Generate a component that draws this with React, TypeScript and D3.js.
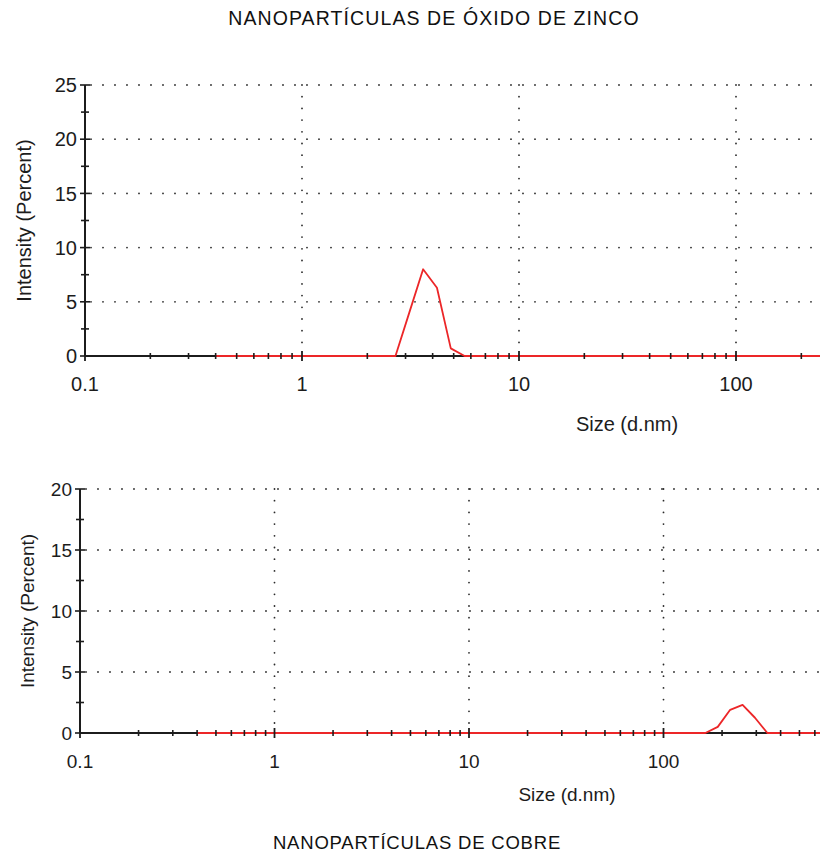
import React from 'react';
import * as d3 from 'd3';

// Zetasizer size bins (d.nm)
const sizeBins = [
  0.4, 0.4632, 0.5365, 0.6213, 0.7195, 0.8332, 0.9649, 1.117, 1.294, 1.499,
  1.736, 2.01, 2.328, 2.696, 3.122, 3.615, 4.187, 4.849, 5.615, 6.503,
  7.531, 8.721, 10.1, 11.7, 13.54, 15.69, 18.17, 21.04, 24.36, 28.21,
  32.67, 37.84, 43.82, 50.75, 58.77, 68.06, 78.82, 91.28, 105.7, 122.4,
  141.8, 164.2, 190.1, 220.2, 255, 295.3, 342, 396.1, 458.7, 531.2,
  615.1, 712.4, 825, 955.4, 1106, 1281, 1484, 1718, 1990, 2305,
  2669, 3091, 3580, 4145, 4801, 5560, 6439, 7456, 8635, 10000,
];

// intensity (%) per bin
const zincIntensity = [
  0, 0, 0, 0, 0, 0, 0, 0, 0, 0,
  0, 0, 0, 0, 4.0, 8.0, 6.3, 0.7, 0, 0,
  0, 0, 0, 0, 0, 0, 0, 0, 0, 0,
  0, 0, 0, 0, 0, 0, 0, 0, 0, 0,
  0, 0, 0, 0, 0, 0, 0, 0, 0, 0,
  0, 0, 0, 0, 0, 0, 0, 0, 0, 0,
  0, 0, 0, 0, 0, 0, 0, 0, 0, 0,
];

const copperIntensity = [
  0, 0, 0, 0, 0, 0, 0, 0, 0, 0,
  0, 0, 0, 0, 0, 0, 0, 0, 0, 0,
  0, 0, 0, 0, 0, 0, 0, 0, 0, 0,
  0, 0, 0, 0, 0, 0, 0, 0, 0, 0,
  0, 0, 0.5, 1.9, 2.3, 1.25, 0, 0, 0, 0,
  0, 0, 0, 0, 0, 0, 0, 0, 0, 0,
  0, 0, 0, 0, 0, 0, 0, 0, 0, 0,
];

const xMajorTicks = [0.1, 1, 10, 100, 1000, 10000];
const xTickLabels = ['0.1', '1', '10', '100', '1000', '10000'];
const zincYTicks = [0, 5, 10, 15, 20, 25];
const copperYTicks = [0, 5, 10, 15, 20];

const FONT = '"Liberation Sans", Arial, Helvetica, sans-serif';
const INK = '#1c1c1c';

type PanelProps = {
  values: number[];
  yTicks: number[];
  x0: number;
  decade: number;
  yTop: number;
  yBase: number;
  fontSize: number;
  xLabelX: number;
  xLabelY: number;
  yLabelX: number;
};

function Panel({ values, yTicks, x0, decade, yTop, yBase, fontSize, xLabelX, xLabelY, yLabelX }: PanelProps) {
  const x = d3.scaleLog().domain([0.1, 10000]).range([x0, x0 + decade * 5]);
  const yMax = yTicks[yTicks.length - 1];
  const y = d3.scaleLinear().domain([0, yMax]).range([yBase, yTop]);
  const right = 820;

  const pts = sizeBins.map((s, i) => [s, values[i]] as [number, number]);
  const line = d3.line<[number, number]>().x(d => x(d[0])).y(d => y(d[1]));

  // minor x ticks 2..9 per decade
  const minor: number[] = [];
  for (let k = 0; k < 5; k++) {
    const base = xMajorTicks[k];
    for (let m = 2; m <= 9; m++) minor.push(base * m);
  }
  const yMinor = d3.range(0, yMax + 0.01, 2.5).filter(v => v % 5 !== 0);
  const majorVisible = xMajorTicks.filter(v => x(v) <= right);

  return (
    <g>
      {/* grid */}
      {yTicks.filter(v => v > 0).map(v => (
        <line key={'gy' + v} x1={x0 + 6} x2={right} y1={y(v)} y2={y(v)}
          stroke="#2a2a2a" strokeWidth={1.8} strokeDasharray="0,12" strokeLinecap="round" />
      ))}
      {majorVisible.filter(v => v > 0.1).map(v => (
        <line key={'gx' + v} x1={x(v)} x2={x(v)} y1={y(yMax)} y2={yBase - 4}
          stroke="#2a2a2a" strokeWidth={1.8} strokeDasharray="0,11.7" strokeLinecap="round" />
      ))}

      {/* axes */}
      <line x1={x0} x2={x0} y1={yTop} y2={yBase} stroke={INK} strokeWidth={2} />
      <line x1={x0} x2={right} y1={yBase} y2={yBase} stroke={INK} strokeWidth={2} />

      {/* data */}
      <path d={line(pts) || ''} fill="none" stroke="#ec2628" strokeWidth={1.8} strokeLinejoin="round" />

      {/* y ticks */}
      {yTicks.map(v => (
        <line key={'ty' + v} x1={x0 - 5} x2={x0 + 5} y1={y(v)} y2={y(v)} stroke={INK} strokeWidth={1.6} />
      ))}
      {yMinor.map(v => (
        <line key={'tym' + v} x1={x0 - 4} x2={x0 + 4} y1={y(v)} y2={y(v)} stroke={INK} strokeWidth={1.6} />
      ))}
      {yTicks.map(v => (
        <text key={'ly' + v} x={x0 - 8} y={y(v)} dy="0.36em" textAnchor="end"
          fontFamily={FONT} fontSize={fontSize} fill={INK}>{v}</text>
      ))}

      {/* x ticks */}
      {minor.filter(v => x(v) <= right).map(v => (
        <line key={'tx' + v} x1={x(v)} x2={x(v)} y1={yBase - 3} y2={yBase + 3} stroke={INK} strokeWidth={1.6} />
      ))}
      {majorVisible.map(v => (
        <line key={'txM' + v} x1={x(v)} x2={x(v)} y1={yBase - 5} y2={yBase + 5} stroke={INK} strokeWidth={1.8} />
      ))}
      {majorVisible.map(v => (
        <text key={'lx' + v} x={x(v)} y={yBase + 35} textAnchor="middle"
          fontFamily={FONT} fontSize={fontSize} fill={INK}>{xTickLabels[xMajorTicks.indexOf(v)]}</text>
      ))}

      {/* axis titles */}
      <text x={xLabelX} y={xLabelY} textAnchor="middle" fontFamily={FONT} fontSize={fontSize} fill={INK}>
        Size (d.nm)
      </text>
      <text transform={`translate(${yLabelX},${(yTop + yBase) / 2}) rotate(-90)`} textAnchor="middle"
        fontFamily={FONT} fontSize={fontSize} fill={INK}>
        Intensity (Percent)
      </text>
    </g>
  );
}

export default function App() {
  return (
    <div>
      <style>{`body{margin:0}`}</style>
      <svg width={820} height={855} style={{ display: 'block', background: '#fff' }}>
        <text x={434} y={25} textAnchor="middle" fontFamily={FONT} fontSize={19.5} letterSpacing={1.1} fill="#111">
          NANOPARTÍCULAS DE ÓXIDO DE ZINCO
        </text>
        <Panel values={zincIntensity} yTicks={zincYTicks} x0={85} decade={217} yTop={85} yBase={356}
          fontSize={20} xLabelX={627} xLabelY={431} yLabelX={31} />
        <Panel values={copperIntensity} yTicks={copperYTicks} x0={80} decade={194.5} yTop={489} yBase={733}
          fontSize={19} xLabelX={567} xLabelY={801} yLabelX={34} />
        <text x={417} y={849} textAnchor="middle" fontFamily={FONT} fontSize={18.5} letterSpacing={0.8} fill="#111">
          NANOPARTÍCULAS DE COBRE
        </text>
      </svg>
    </div>
  );
}
